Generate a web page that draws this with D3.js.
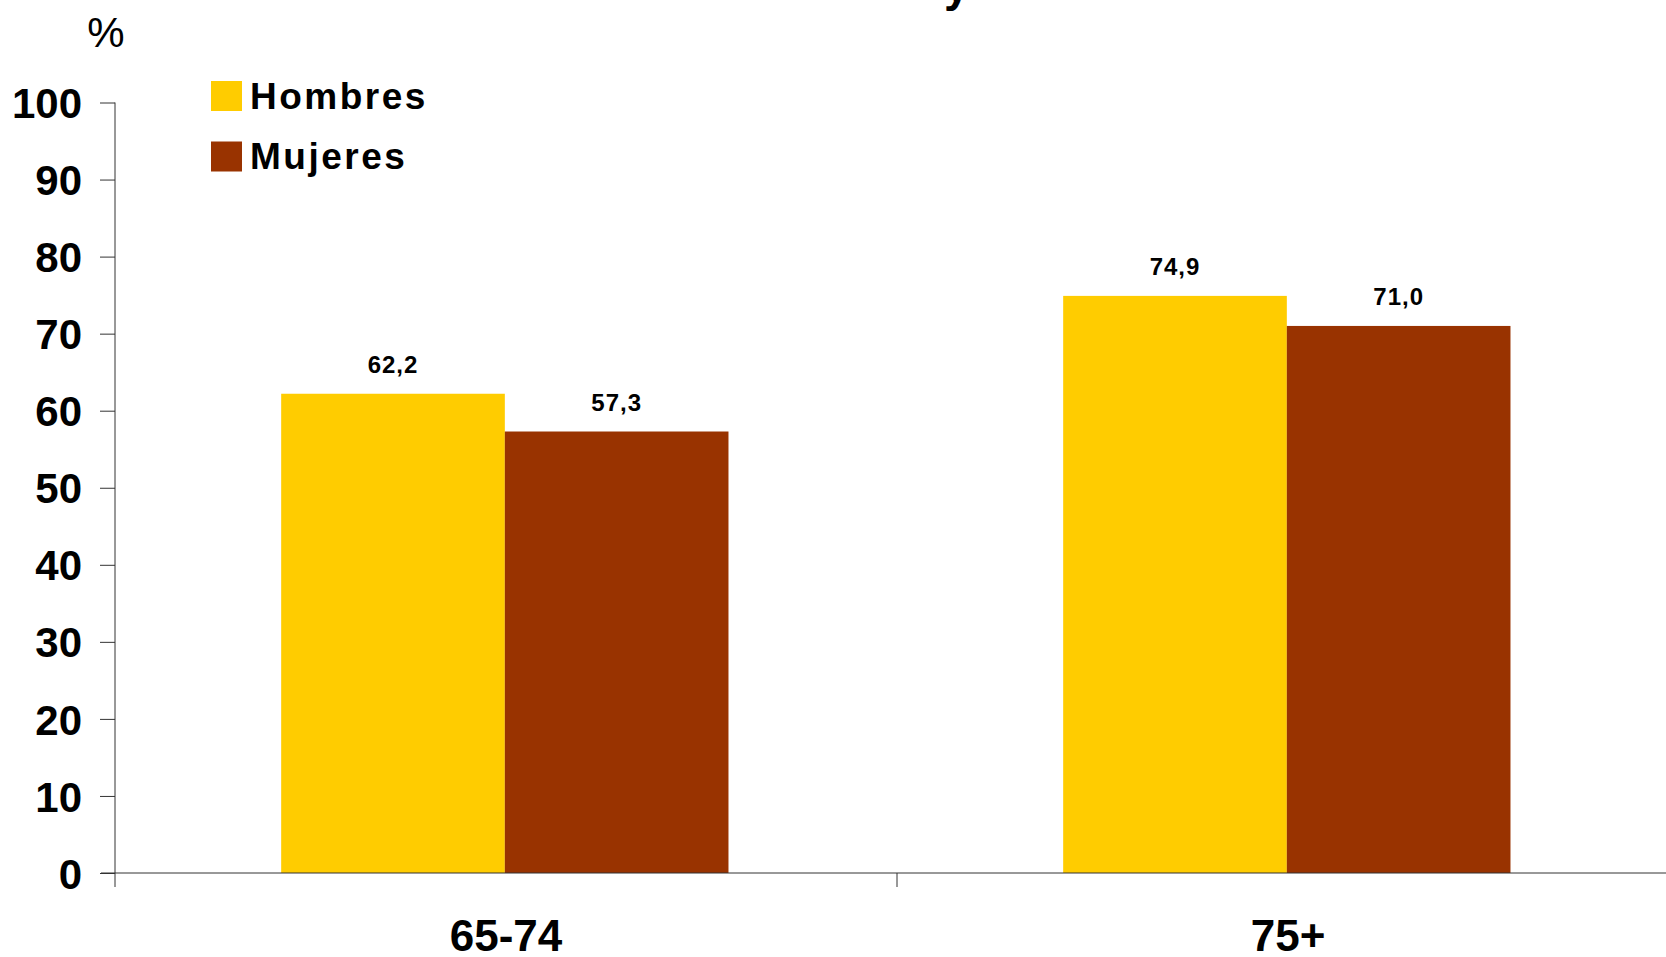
<!DOCTYPE html>
<html><head><meta charset="utf-8">
<script src="https://cdn.jsdelivr.net/npm/d3@7"></script>
<style>
html,body{margin:0;padding:0;background:#fff;}
svg{display:block;font-family:"Liberation Sans",Arial,sans-serif;}
</style></head>
<body>
<svg id="chart" width="1666" height="957"></svg>
<script>
const categories = ["65-74", "75+"];
const seriesNames = ["Hombres", "Mujeres"];
const hombres = [62.2, 74.9];
const mujeres = [57.3, 71.0];
const valueLabels = [["62,2", "74,9"], ["57,3", "71,0"]];
const yTicks = [0, 10, 20, 30, 40, 50, 60, 70, 80, 90, 100];
const colors = ["#FFCC00", "#993300"];

(function () {
const svg = d3.select("#chart");
const pLeft = 115, pRight = 1679, pTop = 102.5, pBottom = 873;

const y = d3.scaleLinear().domain([0, 100]).range([pBottom, pTop]);
const x0 = d3.scaleBand().domain(categories).range([pLeft, pRight]).padding(0);
const bw = x0.bandwidth();
const x1 = d3.scaleBand().domain(seriesNames).range([bw * 0.2125, bw * 0.7845]).padding(0);

const series = [hombres, mujeres];

seriesNames.forEach((s, si) => {
  svg.append("g").selectAll("rect").data(categories).join("rect")
    .attr("x", c => x0(c) + x1(s))
    .attr("y", (c, i) => y(series[si][i]))
    .attr("width", x1.bandwidth())
    .attr("height", (c, i) => y(0) - y(series[si][i]))
    .attr("fill", colors[si]);
  svg.append("g").selectAll("text").data(categories).join("text")
    .attr("x", c => x0(c) + x1(s) + x1.bandwidth() / 2)
    .attr("y", (c, i) => y(series[si][i]) - 21)
    .attr("text-anchor", "middle")
    .attr("font-size", 24)
    .attr("font-weight", "bold")
    .attr("letter-spacing", 1)
    .attr("fill", "#000")
    .text((c, i) => valueLabels[si][i]);
});

const yAxis = d3.axisLeft(y).tickValues(yTicks).tickSize(15).tickPadding(18).tickSizeOuter(0);
const gy = svg.append("g").attr("transform", `translate(${pLeft},0)`).call(yAxis);
gy.select(".domain").attr("stroke", "#333").attr("d", `M0,${pTop}V${pBottom + 14}`);
gy.selectAll(".tick line").attr("stroke", "#333");
gy.selectAll(".tick text").attr("font-size", 42).attr("font-weight", "bold")
  .attr("font-family", "Liberation Sans, Arial, sans-serif").attr("fill", "#000").attr("dy", "0.36em");

const xAxis = d3.axisBottom(x0).tickSize(0).tickPadding(47);
const gx = svg.append("g").attr("transform", `translate(0,${pBottom})`).call(xAxis);
gx.select(".domain").attr("stroke", "#333").attr("d", `M${pLeft - 14},0H${pRight}`);
gx.selectAll(".tick text").attr("font-size", 44).attr("font-weight", "bold")
  .attr("font-family", "Liberation Sans, Arial, sans-serif").attr("fill", "#000");
svg.append("line")
  .attr("x1", x0(categories[1])).attr("x2", x0(categories[1]))
  .attr("y1", pBottom).attr("y2", pBottom + 14).attr("stroke", "#333");

svg.append("text").attr("x", 106).attr("y", 47).attr("text-anchor", "middle")
  .attr("font-size", 42).attr("fill", "#000").text("%");

svg.append("text").attr("x", 944).attr("y", 1).attr("font-size", 46)
  .attr("font-weight", "bold").attr("fill", "#000").text("y");

const legend = svg.append("g");
seriesNames.forEach((s, i) => {
  legend.append("rect").attr("x", 211).attr("y", 81 + i * 60.5).attr("width", 31).attr("height", 30).attr("fill", colors[i]);
  legend.append("text").attr("x", 250).attr("y", 109 + i * 60).attr("font-size", 37)
    .attr("font-weight", "bold").attr("letter-spacing", 2.5).attr("fill", "#000").text(s);
});
})();
</script>
</body></html>
